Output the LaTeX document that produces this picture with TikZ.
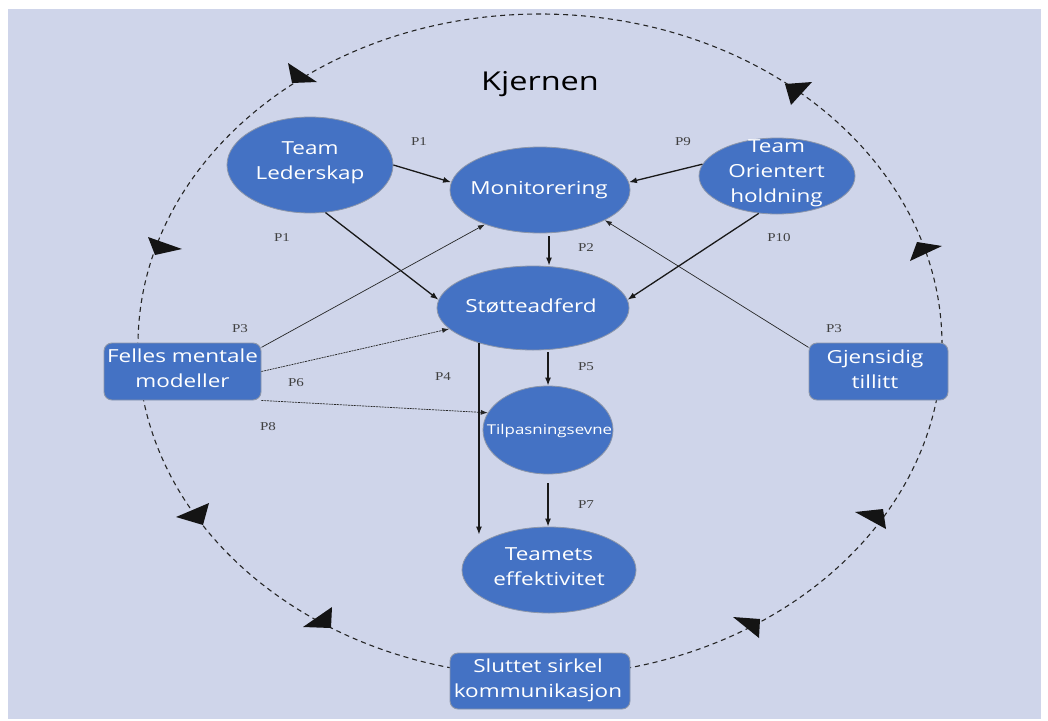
\documentclass[tikz,border=0pt]{standalone}
\usepackage{fontspec}
\usetikzlibrary{shapes.geometric,arrows.meta}
\newfontfamily\nf[FakeStretch=1.25]{Open Sans}
\newfontfamily\pf[FakeStretch=1.25]{Liberation Serif}
\definecolor{bgblue}{HTML}{CFD5EA}
\definecolor{nodeblue}{HTML}{4472C4}
\definecolor{rimgray}{HTML}{8C96AA}
\tikzset{
  blob/.style={ellipse, fill=nodeblue, draw=rimgray, line width=0.8pt, inner sep=0pt},
  boxnode/.style={rectangle, rounded corners=8pt, fill=nodeblue, draw=rimgray, line width=0.9pt, inner sep=0pt},
  ntext/.style={text=white, align=center, inner sep=0pt, font=\nf\fontsize{18}{25}\selectfont},
  plabel/.style={text=black!75, inner sep=0pt, font=\pf\fontsize{12}{12}\selectfont},
  arr/.style={-{Latex[length=8pt,width=6pt]}, line width=1.3pt, black!90},
  thinarr/.style={-{Latex[length=7pt,width=5pt]}, line width=0.7pt, black!85},
  dotarr/.style={-{Latex[length=7pt,width=5pt]}, line width=0.7pt, black!85, dash pattern=on 2pt off 0.8pt},
  ring/.style={line width=1.1pt, black!85, dash pattern=on 5pt off 4pt},
  ringtip/.style={fill=black!92}
}
\begin{document}
\begin{tikzpicture}[x=1pt,y=-1pt]
\useasboundingbox (0,0) rectangle (1048,720);
\fill[white] (0,0) rectangle (1048,720);
\fill[bgblue] (8,9) rectangle (1041,719);

% dashed cycle
\draw[ring] (540,345) ellipse [x radius=402pt, y radius=331pt];
\fill[ringtip] (288,63) -- (317,82) -- (292,83) -- cycle;
\fill[ringtip] (785,84) -- (812,82) -- (791,105) -- cycle;
\fill[ringtip] (917,242) -- (942,246) -- (910,261) -- cycle;
\fill[ringtip] (855,512) -- (883,509) -- (886,529) -- cycle;
\fill[ringtip] (733,617) -- (760,619) -- (759,638) -- cycle;
\fill[ringtip] (303,627) -- (332,607) -- (331,628) -- cycle;
\fill[ringtip] (176,517) -- (209,503) -- (203,525) -- cycle;
\fill[ringtip] (148,237) -- (182,249) -- (155,255) -- cycle;

\node[text=black, inner sep=0pt, font=\nf\fontsize{26}{30}\selectfont] (kj) at (540,84) {Kjernen};

% nodes
\node[blob, minimum width=166pt, minimum height=96pt] (tl) at (310,165) {};
\node[blob, minimum width=180pt, minimum height=86pt] (mon) at (540,190) {};
\node[blob, minimum width=192pt, minimum height=84pt] (sup) at (533,308) {};
\node[blob, minimum width=156pt, minimum height=76pt] (to) at (777,176) {};
\node[blob, minimum width=130pt, minimum height=88pt] (tilp) at (548,430) {};
\node[blob, minimum width=174pt, minimum height=86pt] (eff) at (549,570) {};
\node[boxnode, minimum width=157pt, minimum height=57pt] (felles) at (182.5,371.5) {};
\node[boxnode, minimum width=139pt, minimum height=57pt] (gjen) at (878.5,371.5) {};
\node[boxnode, minimum width=180pt, minimum height=56pt] (slut) at (540,681) {};

\node[ntext] (tl-t) at (310,162.6) {Team\\Lederskap};
\node[ntext] (mon-t) at (539,190) {Monitorering};
\node[ntext] (sup-t) at (531,306) {Støtteadferd};
\node[ntext] (to-t) at (776.5,173.7) {Team\\Orientert\\holdning};
\node[ntext, font=\nf\fontsize{13.5}{16}\selectfont] (tilp-t) at (549.5,430.5) {Tilpasningsevne};
\node[ntext] (eff-t) at (549,566.5) {Teamets\\effektivitet};
\node[ntext] (felles-t) at (182.5,368.7) {Felles mentale\\modeller};
\node[ntext] (gjen-t) at (875,369.7) {Gjensidig\\tillitt};
\node[ntext] (slut-t) at (538,680.8) {Sluttet sirkel\\kommunikasjon};

% connectors
\draw[arr] (tl.0) -- (mon.175);
\draw[arr] (tl.-72) -- (sup.175);
\draw[thinarr] (felles.17) -- (mon.212);
\draw[dotarr] (felles.0) -- (sup.194.5);
\draw[dotarr] (felles.south east) -- (tilp.164);
\draw[thinarr] (gjen.161) -- (mon.-25);
\draw[arr] (to.171) -- (mon.5);
\draw[arr] (to.244) -- (sup.5);
\coordinate (m1) at ([xshift=9pt]mon.south);
\draw[arr, shorten <=3pt] (m1) -- (m1 |- sup.north);
\draw[arr, shorten <=2pt] (tilp.north |- sup.south) -- (tilp.north);
\draw[arr, shorten >=-8pt] (sup.213) -- (sup.213 |- eff.north);
\draw[arr, shorten <=9pt] (tilp.south) -- (tilp.south |- eff.north);

% labels
\node[plabel] (p1a) at (419,142) {P1};
\node[plabel] (p1b) at (282,238) {P1};
\node[plabel] (p2) at (586,248) {P2};
\node[plabel] (p9) at (683,142) {P9};
\node[plabel] (p10) at (779,238) {P10};
\node[plabel] (p3a) at (240,329) {P3};
\node[plabel] (p3b) at (834,329) {P3};
\node[plabel] (p6) at (296,383) {P6};
\node[plabel] (p4) at (443,377) {P4};
\node[plabel] (p8) at (268,427) {P8};
\node[plabel] (p5) at (586,367) {P5};
\node[plabel] (p7) at (586,505) {P7};
\end{tikzpicture}
\end{document}
